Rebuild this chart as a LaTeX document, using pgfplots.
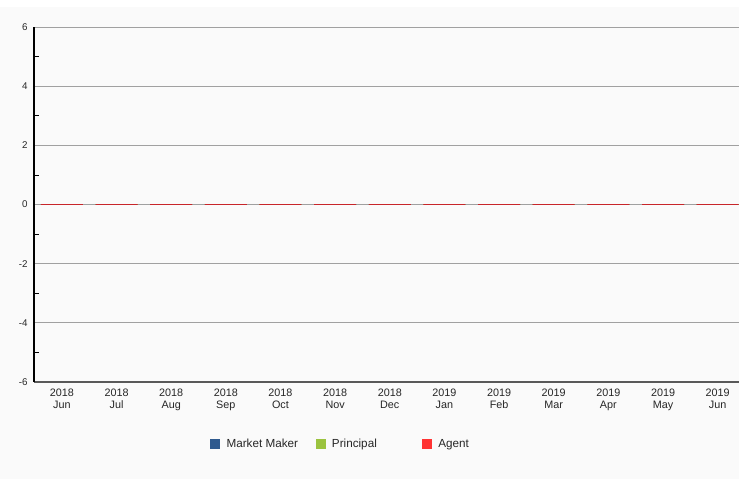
\documentclass[border=0pt]{standalone}
\usepackage{pgfplots}
\pgfplotsset{compat=1.18}
\usepackage{fontspec}
\setmainfont{Liberation Sans}
\definecolor{bgc}{HTML}{FAFAFA}
\definecolor{mm}{HTML}{2F5A8E}
\definecolor{pr}{HTML}{9BC33F}
\definecolor{ag}{HTML}{FF3333}
\definecolor{agline}{HTML}{C8252A}
\definecolor{gridc}{HTML}{A0A0A0}
\begin{document}
\begin{tikzpicture}
\fill[white] (-34bp,-97bp) rectangle (705bp,382bp);
\fill[bgc] (-34bp,-97bp) rectangle (705bp,375bp);
\begin{axis}[
  scale only axis,
  width=705bp, height=355bp,
  xmin=-0.51, xmax=12.39,
  ymin=-6, ymax=6,
  axis x line*=bottom, axis y line*=left,
  x axis line style={line width=1.6bp, color=black!65},
  y axis line style={line width=1.3bp, color=black},
  ytick={-6,-4,...,6},
  yticklabels={-6,-4,-2,0,2,4,6},
  minor ytick={-5,-3,...,5},
  xtick={0,...,12},
  xticklabels={{2018\\Jun},{2018\\Jul},{2018\\Aug},{2018\\Sep},{2018\\Oct},{2018\\Nov},{2018\\Dec},{2019\\Jan},{2019\\Feb},{2019\\Mar},{2019\\Apr},{2019\\May},{2019\\Jun}},
  xticklabel style={align=center, font=\fontsize{10.8bp}{12bp}\selectfont, text=black!85, yshift=-3.5bp},
  yticklabel style={font=\fontsize{9.8bp}{11bp}\selectfont, text=black!85, xshift=-3bp},
  major tick length=0pt,
  minor tick length=5bp,
  tick align=inside,
  minor tick style={black, line width=0.8bp},
  ymajorgrids,
  major grid style={gridc, line width=0.9bp},
  ybar, bar shift=0pt,
  bar width=42bp,
  legend style={at={(0.2454,-0.1746)}, anchor=west, draw=none, fill=none,
    font=\fontsize{11.7bp}{13bp}\selectfont, text=black!85,
    nodes={inner xsep=4bp},
    /tikz/every even column/.append style={column sep=0bp}},
  legend columns=3,
  legend image code/.code={\fill[#1] (0bp,-4.5bp) rectangle (9bp,4.5bp);},
]
\addplot[draw=mm, fill=mm, forget plot] coordinates {(0,0) (1,0) (2,0) (3,0) (4,0) (5,0) (6,0) (7,0) (8,0) (9,0) (10,0) (11,0) (12,0)};
\addplot[draw=pr, fill=pr, forget plot] coordinates {(0,0) (1,0) (2,0) (3,0) (4,0) (5,0) (6,0) (7,0) (8,0) (9,0) (10,0) (11,0) (12,0)};
\addplot[draw=agline, fill=ag, line width=1bp, forget plot] coordinates {(0,0) (1,0) (2,0) (3,0) (4,0) (5,0) (6,0) (7,0) (8,0) (9,0) (10,0) (11,0) (12,0)};
\addlegendimage{mm}
\addlegendentry{\hspace{3bp}\makebox[85bp][l]{Market Maker}}
\addlegendimage{pr}
\addlegendentry{\hspace{3bp}\makebox[86bp][l]{Principal}}
\addlegendimage{ag}
\addlegendentry{\hspace{3bp}\makebox[40bp][l]{Agent}}
\end{axis}
\pgfresetboundingbox
\path[use as bounding box] (-34bp,-97bp) rectangle (705bp,382bp);
\end{tikzpicture}
\end{document}
